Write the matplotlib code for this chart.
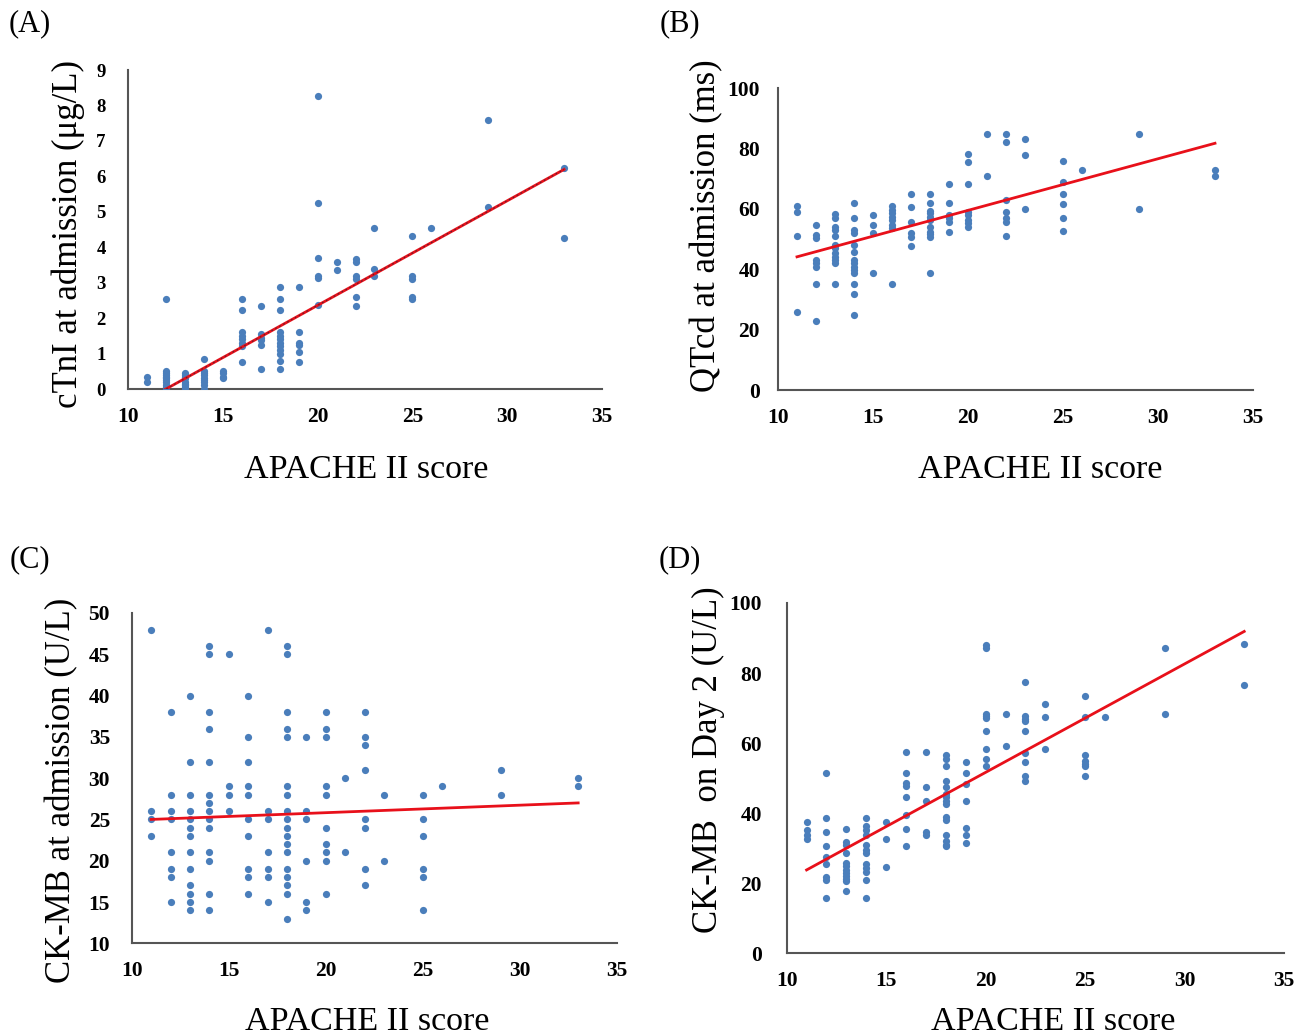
import numpy as np
from matplotlib import pyplot as plt

plt.rcParams['font.family'] = ['Liberation Serif', 'DejaVu Serif']

W, H = 1312, 1035

# ---- (A) cTnI at admission vs APACHE II ----
a_x = [11] * 2 + [12] * 11 + [13] * 9 + [14] * 9 + [15] * 4 + [16] * 8 + [17] * 6 + [18] * 12 \
    + [19] * 6 + [20] * 6 + [21] * 2 + [22] * 6 + [23] * 3 + [25] * 5 + [26] + [29] * 2 + [33] * 2
a_y = [0.35, 0.2,
       2.53, 0.5, 0.45, 0.4, 0.35, 0.3, 0.25, 0.2, 0.1, 0.05, 0.0,
       0.45, 0.4, 0.35, 0.3, 0.2, 0.15, 0.1, 0.05, 0.0,
       0.85, 0.5, 0.45, 0.4, 0.3, 0.25, 0.2, 0.1, 0.0,
       0.5, 0.45, 0.35, 0.3,
       2.53, 2.23, 1.62, 1.5, 1.4, 1.3, 1.2, 0.77,
       2.35, 1.55, 1.45, 1.38, 1.24, 0.56,
       2.89, 2.53, 2.23, 1.62, 1.5, 1.4, 1.3, 1.2, 1.1, 1.0, 0.8, 0.56,
       2.89, 1.62, 1.31, 1.24, 1.04, 0.77,
       8.26, 5.24, 3.69, 3.19, 3.12, 2.37,
       3.58, 3.36,
       3.67, 3.59, 3.19, 3.1, 2.59, 2.35,
       4.54, 3.38, 3.19,
       4.32, 3.19, 3.1, 2.59, 2.53,
       4.54,
       7.6, 5.13,
       6.23, 4.26]
a_fit = (0.295, -3.54)  # slope, intercept

# ---- (B) QTcd at admission ----
b_x = [11] * 4 + [12] * 8 + [13] * 12 + [14] * 14 + [15] * 4 + [16] * 8 + [17] * 6 + [18] * 11 \
    + [19] * 6 + [20] * 8 + [21] * 2 + [22] * 7 + [23] * 3 + [25] * 6 + [26] + [29] * 2 + [33] * 2
b_y = [60.9, 59.0, 51.0, 25.9,
       54.8, 51.3, 50.2, 43.0, 41.9, 40.8, 35.0, 22.8,
       58.2, 56.8, 54.1, 53.0, 51.0, 48.0, 46.9, 45.3, 44.1, 43.0, 41.9, 35.0,
       61.8, 56.8, 53.0, 51.9, 48.0, 45.6, 43.0, 41.9, 40.8, 39.7, 38.6, 35.0, 31.8, 24.8,
       57.9, 54.8, 52.1, 38.8,
       60.9, 59.6, 58.5, 57.4, 56.3, 54.6, 53.5, 35.0,
       64.9, 60.7, 55.7, 52.1, 50.8, 47.8,
       64.9, 61.8, 59.4, 58.5, 57.4, 56.3, 54.1, 52.4, 51.5, 50.8, 38.8,
       68.1, 61.8, 57.9, 56.8, 55.7, 52.4,
       78.1, 75.6, 68.1, 59.0, 57.9, 56.3, 55.2, 54.1,
       84.8, 70.9,
       84.8, 82.0, 62.9, 59.0, 56.8, 55.7, 51.0,
       83.0, 77.8, 60.0,
       75.8, 69.0, 64.9, 61.7, 56.8, 52.6,
       73.0,
       84.8, 60.0,
       73.0, 70.8]
b_fit = (1.709, 25.3)

# ---- (C) CK-MB at admission ----
c_x = [11] * 4 + [12] * 8 + [13] * 13 + [14] * 14 + [15] * 4 + [16] * 10 + [17] * 7 + [18] * 18 \
    + [19] * 6 + [20] * 10 + [21] * 2 + [22] * 8 + [23] * 2 + [25] * 6 + [26] + [29] * 2 + [33] * 2
c_y = [48, 26, 25, 23,
       38, 28, 26, 25, 21, 19, 18, 15,
       40, 32, 28, 26, 25, 24, 23, 21, 19, 17, 16, 15, 14,
       46, 45, 38, 36, 32, 28, 27, 26, 25, 24, 21, 20, 16, 14,
       45, 29, 28, 26,
       40, 35, 32, 29, 28, 25, 23, 19, 18, 16,
       48, 26, 25, 21, 19, 18, 15,
       46, 45, 38, 36, 35, 29, 28, 26, 25, 24, 23, 22, 21, 19, 18, 17, 16, 13,
       35, 26, 25, 20, 15, 14,
       38, 36, 35, 29, 28, 24, 22, 21, 20, 16,
       30, 21,
       38, 35, 34, 31, 25, 24, 19, 17,
       28, 20,
       28, 25, 23, 19, 18, 14,
       29,
       31, 28,
       30, 29]
c_fit = (0.0909, 24.0)

# ---- (D) CK-MB on Day 2 ----
d_x = [11] * 4 + [12] * 9 + [13] * 12 + [14] * 12 + [15] * 3 + [16] * 8 + [17] * 5 + [18] * 15 \
    + [19] * 7 + [20] * 9 + [21] * 2 + [22] * 9 + [23] * 3 + [25] * 7 + [26] + [29] * 2 + [33] * 2
d_y = [37.6, 35.2, 33.8, 32.6,
       51.4, 38.6, 34.6, 30.7, 27.6, 25.5, 21.7, 20.8, 15.7,
       35.4, 31.7, 30.9, 28.6, 25.7, 24.8, 23.9, 23.0, 22.1, 21.2, 20.5, 17.8,
       38.6, 36.3, 35.2, 33.8, 30.9, 29.5, 28.6, 25.5, 24.3, 23.3, 20.8, 15.7,
       37.6, 32.6, 24.7,
       57.4, 51.4, 48.7, 47.8, 44.6, 39.5, 35.4, 30.7,
       57.4, 47.5, 43.6, 34.6, 33.7,
       56.7, 55.4, 53.5, 49.2, 47.5, 45.5, 44.6, 43.6, 42.7, 39.0, 38.1, 33.7, 32.0, 31.0, 30.6,
       54.5, 51.4, 48.3, 43.6, 35.7, 33.8, 31.6,
       88.1, 87.1, 68.4, 67.6, 67.1, 63.5, 58.3, 55.4, 53.5,
       68.4, 59.3,
       77.4, 67.6, 66.8, 66.4, 63.5, 57.3, 54.5, 50.5, 49.3,
       71.3, 67.4, 58.3,
       73.4, 67.4, 56.7, 54.8, 54.1, 53.5, 50.6,
       67.4,
       87.1, 68.3,
       88.3, 76.5]
d_fit = (3.095, -10.25)

x_ticks = [10, 15, 20, 25, 30, 35]
xlabel = 'APACHE II score'

fig = plt.figure(figsize=(W / 100, H / 100), dpi=100)


def box(left, top, right, bottom):
    # pixel box -> figure fraction
    return [left / W, (H - bottom) / H, (right - left) / W, (bottom - top) / H]


def panel(rect, xs, ys, fit, ylim, yticks, ypad, ysize=15.5, dotted=False):
    ax = fig.add_axes(rect)
    ax.scatter(xs, ys, s=27, color='#4a7ebb', linewidths=0, zorder=3)
    fx = np.array([11, 33])
    fy = fit[0] * fx + fit[1]
    ax.plot(fx, fy, color='#e8101a', lw=2, zorder=4)
    if dotted:
        ax.plot(fx, fy, color='#5a2030', lw=0.8, ls=(0, (1.5, 2.5)), zorder=5)
    ax.set_xlim(10, 35)
    ax.set_ylim(*ylim)
    ax.set_xticks(x_ticks)
    ax.set_yticks(yticks)
    for s in ['top', 'right']:
        ax.spines[s].set_visible(False)
    for s in ['left', 'bottom']:
        ax.spines[s].set_color('#555555')
        ax.spines[s].set_linewidth(1.5)
    ax.tick_params(axis='x', length=0, pad=13, labelsize=15.5)
    ax.tick_params(axis='y', length=0, pad=ypad, labelsize=ysize)
    for lab in ax.get_xticklabels() + ax.get_yticklabels():
        lab.set_fontweight('bold')
    return ax


panel(box(128, 70, 602, 389), a_x, a_y, a_fit, (0, 9), range(0, 10), 16, ysize=13.5, dotted=True)
panel(box(778, 88, 1253, 390), b_x, b_y, b_fit, (0, 100), range(0, 101, 20), 13)
panel(box(131.7, 613, 617, 943.3), c_x, c_y, c_fit, (10, 50), range(10, 51, 5), 15.6)
panel(box(786.7, 603, 1284, 953.3), d_x, d_y, d_fit, (0, 100), range(0, 101, 20), 17.8)


def ftext(x, y, s, **kw):
    fig.text(x / W, 1 - y / H, s, ha='center', va='center', **kw)


ftext(68, 234, 'cTnI at admission (μg/L)', fontsize=25, rotation=90)
ftext(707, 226, 'QTcd at admission (ms)', fontsize=25, rotation=90)
ftext(62, 790, 'CK-MB at admission (U/L)', fontsize=25, rotation=90)
ftext(708, 760, 'CK-MB  on Day 2 (U/L)', fontsize=25, rotation=90)

ftext(366, 470, xlabel, fontsize=24.5)
ftext(1040, 470, xlabel, fontsize=24.5)
ftext(367, 1022, xlabel, fontsize=24.5)
ftext(1053, 1022, xlabel, fontsize=24.5)

ftext(30, 24, '(A)', fontsize=22)
ftext(680, 24, '(B)', fontsize=22)
ftext(30, 560, '(C)', fontsize=22)
ftext(680, 560, '(D)', fontsize=22)

fig.savefig('out.png', dpi=100)
